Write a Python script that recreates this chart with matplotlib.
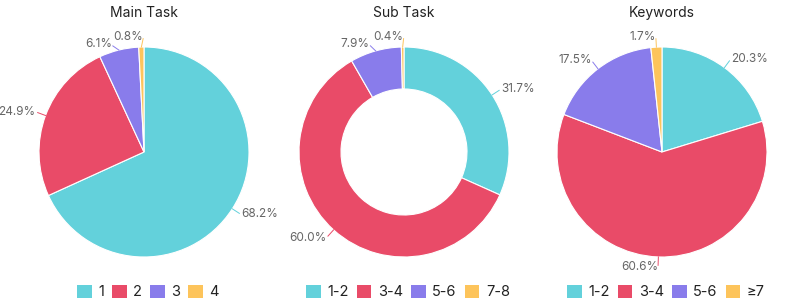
import numpy as np
import matplotlib.pyplot as plt
from matplotlib.patches import Patch

plt.rcParams['font.family'] = ['Inter', 'DejaVu Sans']

colors = ['#63D1DB', '#E94B68', '#897CEB', '#FDC45B']

titles = ['Main Task', 'Sub Task', 'Keywords']
main_labels = ['1', '2', '3', '4']
main_vals = [68.2, 24.9, 6.1, 0.8]
sub_labels = ['1-2', '3-4', '5-6', '7-8']
sub_vals = [31.7, 60.0, 7.9, 0.4]
kw_labels = ['1-2', '3-4', '5-6', '≥7']
kw_vals = [20.3, 60.6, 17.5, 1.7]

W, H = 797, 303
fig = plt.figure(figsize=(W / 100, H / 100), dpi=100)

centers = [(144, 152), (404, 152), (662, 152)]
R = 105
holes = [None, 0.6, None]
groups = [(main_labels, main_vals), (sub_labels, sub_vals), (kw_labels, kw_vals)]
# small label nudges (pixels) to keep crowded labels apart, like the original layout
nudges = [{2: (-4, -4), 3: (2, 0)}, {2: (-3, -3), 3: (1, 0)}, {}]

for (cx, cy), title, (labs, vals), hole, nd in zip(centers, titles, groups, holes, nudges):
    ax = fig.add_axes([(cx - R) / W, (H - cy - R) / H, 2 * R / W, 2 * R / H])
    wp = dict(edgecolor='white', linewidth=0.8)
    if hole:
        wp['width'] = 1 - hole
    wedges, _ = ax.pie(vals, colors=colors, startangle=90, counterclock=False,
                       radius=1, wedgeprops=wp)
    ax.set_xlim(-1, 1)
    ax.set_ylim(-1, 1)
    ax.set_aspect('auto')
    ax.axis('off')

    # outside labels with short leader lines
    for i, (w, v, c) in enumerate(zip(wedges, vals, colors)):
        a = np.deg2rad((w.theta1 + w.theta2) / 2)
        x, y = np.cos(a), np.sin(a)
        dx, dy = nd.get(i, (0, 0))
        tx, ty = x * 1.1 + dx / R, y * 1.1 + dy / R
        ax.plot([x * 1.0, x * 1.08 + dx / R], [y * 1.0, y * 1.08 + dy / R],
                color=c, lw=0.7, clip_on=False)
        ax.text(tx, ty, f'{v:.1f}%', ha='left' if x >= 0 else 'right',
                va='center', fontsize=8.5, color='#666666')

    fig.text(cx / W, 1 - 13 / H, title, ha='center', va='center',
             fontsize=10, color='#222222')

    handles = [Patch(facecolor=c, edgecolor='none') for c in colors]
    fig.legend(handles, labs, loc='center', bbox_to_anchor=((cx + 4) / W, 1 - 292 / H),
               ncol=4, frameon=False, fontsize=10.5, handlelength=1.0,
               handleheight=1.0, handletextpad=0.45, columnspacing=0.55,
               labelcolor='#222222', borderpad=0)

fig.savefig('out.png', dpi=100)
